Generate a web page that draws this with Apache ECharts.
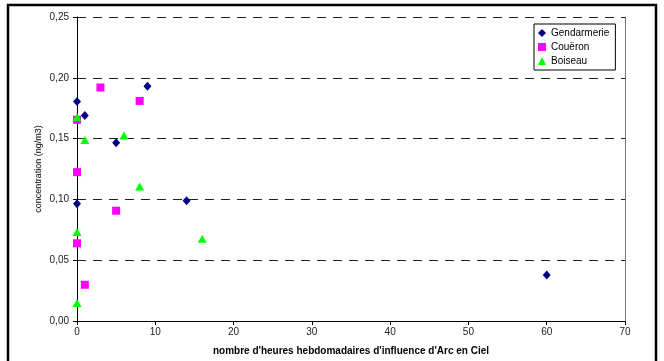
<!DOCTYPE html>
<html><head><meta charset="utf-8">
<script src="https://cdn.jsdelivr.net/npm/echarts@6/dist/echarts.min.js"></script>
<style>html,body{margin:0;padding:0;background:#fff}#c{width:664px;height:361px}</style>
</head><body><div id="c"></div>
<script>
var seriesNames = ['Gendarmerie', 'Couëron', 'Boiseau'];
var gendarmerie = [[0, 0.1805], [1, 0.169], [5, 0.1466], [9, 0.193], [0, 0.0964], [14, 0.0989], [60, 0.0379]];
var coueron = [[3, 0.192], [8, 0.181], [0, 0.1655], [0, 0.1224], [5, 0.0907], [0, 0.0639], [1, 0.0298]];
var boiseau = [[0, 0.1675], [1, 0.1488], [6, 0.1525], [8, 0.1106], [0, 0.0732], [0, 0.0149], [16, 0.0677]];
var xTitle = "nombre d'heures hebdomadaires d'influence d'Arc en Ciel";
var yTitle = 'concentration (ng/m3)';

var font = 'Liberation Sans, Arial, sans-serif';
var chart = echarts.init(document.getElementById('c'));
chart.setOption({
  animation: false,
  backgroundColor: '#fff',
  textStyle: {fontFamily: font},
  graphic: [{
    type: 'rect', shape: {x: 8, y: 5, width: 648, height: 370},
    style: {fill: 'none', stroke: '#000', lineWidth: 2.5}, z: 100
  }],
  grid: {left: 77, right: 39, top: 17, bottom: 37},
  legend: {
    orient: 'vertical', left: 534, top: 24,
    padding: [4, 6, 4, 4], itemGap: 4, itemWidth: 8, itemHeight: 8,
    borderColor: '#000', borderWidth: 1, backgroundColor: '#fff',
    textStyle: {fontSize: 10, color: '#000', fontFamily: font},
    data: seriesNames
  },
  xAxis: {
    type: 'value', min: 0, max: 70, interval: 10,
    name: xTitle, nameLocation: 'middle', nameGap: 25, nameMoveOverlap: false,
    nameTextStyle: {fontSize: 10, fontWeight: 'bold', color: '#000', fontFamily: font},
    axisLine: {onZero: false, lineStyle: {color: '#000', width: 1}},
    axisTick: {show: true, length: 4, lineStyle: {color: '#000'}},
    axisLabel: {fontSize: 10, color: '#222', margin: 6, fontFamily: font},
    splitLine: {show: false}
  },
  yAxis: [{
    type: 'value', min: 0, max: 0.25, interval: 0.05,
    name: yTitle, nameLocation: 'middle', nameGap: 34, nameMoveOverlap: false,
    nameTextStyle: {fontSize: 9, color: '#000', fontFamily: font},
    axisLine: {show: true, lineStyle: {color: '#000', width: 1}},
    axisTick: {show: true, length: 4, lineStyle: {color: '#000'}},
    axisLabel: {fontSize: 10, color: '#222', margin: 8, fontFamily: font,
      formatter: function (v) { return v.toFixed(2).replace('.', ','); }},
    splitLine: {show: true, lineStyle: {color: '#222', type: [9, 7], width: 1}}
  }, {
    type: 'value', min: 0, max: 0.25, position: 'right',
    axisLine: {show: true, lineStyle: {color: '#777', width: 1}},
    axisTick: {show: false}, axisLabel: {show: false}, splitLine: {show: false}
  }],
  series: [
    {name: seriesNames[0], type: 'scatter', data: gendarmerie, symbol: 'diamond', symbolSize: [8, 9],
      itemStyle: {color: '#000080', opacity: 1}, z: 5},
    {name: seriesNames[1], type: 'scatter', data: coueron, symbol: 'rect', symbolSize: 8,
      itemStyle: {color: '#FF00FF', opacity: 1}, z: 4},
    {name: seriesNames[2], type: 'scatter', data: boiseau, symbol: 'triangle', symbolSize: [9, 8],
      itemStyle: {color: '#00FF00', opacity: 1}, z: 6}
  ]
});
</script></body></html>
